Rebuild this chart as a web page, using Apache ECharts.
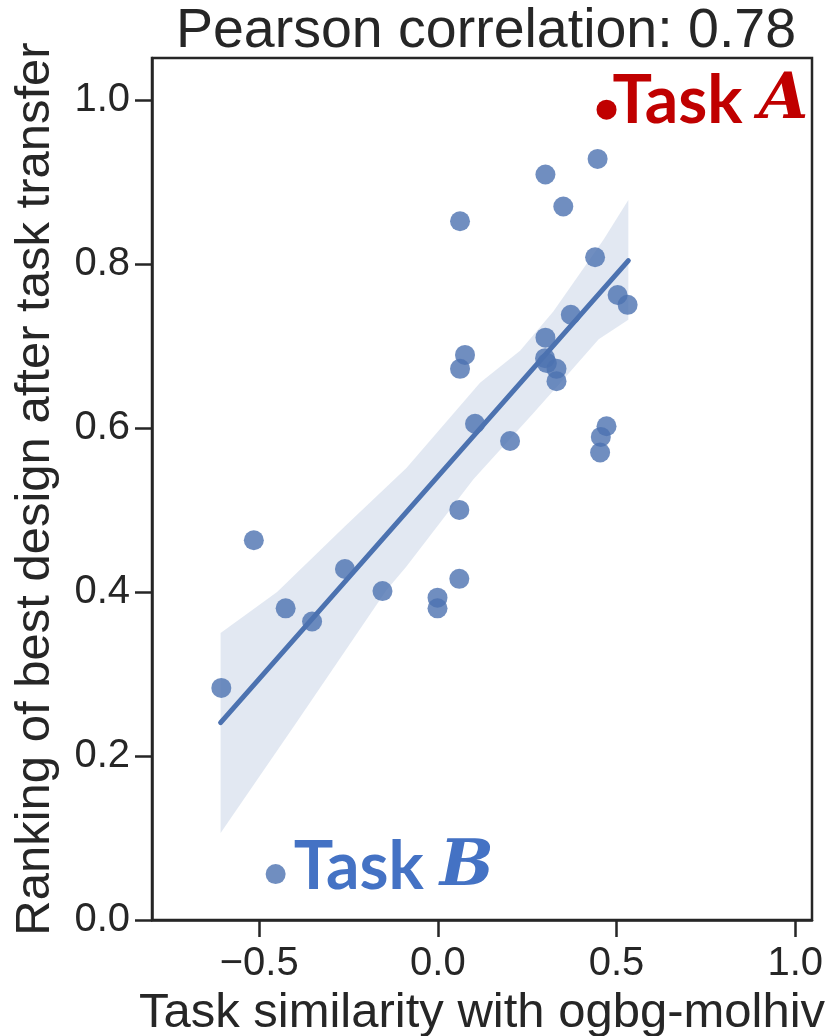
<!DOCTYPE html>
<html><head><meta charset="utf-8">
<script src="https://cdn.jsdelivr.net/npm/echarts@6/dist/echarts.min.js"></script>
<style>html,body{margin:0;padding:0;background:#fff}#c{width:835px;height:1036px}</style>
</head><body><div id="c"></div>
<script>
// Task similarity (x) and ranking of best design after transfer (y)
const similarity = [0.447, 0.301, 0.351, 0.062, 0.440, 0.503, 0.531, 0.372, 0.301, 0.076,
  0.062, 0.300, 0.305, 0.332, 0.332, 0.104, 0.202, 0.472, 0.456, 0.454,
  -0.515, 0.060, -0.260, -0.426, -0.352, -0.155, 0.060, -0.001, -0.001, -0.606];
const ranking = [0.928, 0.909, 0.870, 0.852, 0.808, 0.762, 0.750, 0.738, 0.710, 0.689,
  0.672, 0.685, 0.679, 0.672, 0.657, 0.605, 0.584, 0.602, 0.589, 0.570,
  0.463, 0.500, 0.428, 0.380, 0.364, 0.401, 0.416, 0.393, 0.380, 0.283];
const taskA = [0.472, 0.988];
const taskB = [-0.454, 0.056];
// regression line end points
const fitX = [-0.608, 0.533];
const fitY = [0.2406, 0.804];
// confidence band bounds
const upperX = [-0.608, -0.45, -0.26, -0.088, 0.118, 0.23, 0.323, 0.463, 0.533];
const upperY = [0.350, 0.400, 0.480, 0.551, 0.655, 0.694, 0.742, 0.829, 0.878];
const lowerX = [-0.608, -0.40, -0.144, -0.088, 0.099, 0.267, 0.351, 0.45, 0.533];
const lowerY = [0.106, 0.238, 0.402, 0.431, 0.537, 0.618, 0.659, 0.708, 0.732];
const xTicks = [-0.5, 0.0, 0.5, 1.0];
const yTicks = [0.0, 0.2, 0.4, 0.6, 0.8, 1.0];

const ink = '#262626';
const blue = '#4c72b0';
const dotBlue = 'rgba(76,114,176,0.8)';
const fmt = v => v.toFixed(1).replace('-', '\u2212');

const points = similarity.map((x, i) => [x, ranking[i]]);
const band = upperX.map((x, i) => [x, upperY[i]])
  .concat(lowerX.map((x, i) => [x, lowerY[i]]).reverse());

const chart = echarts.init(document.getElementById('c'), null, {renderer: 'canvas'});
chart.setOption({
  animation: false,
  backgroundColor: '#fff',
  title: {
    text: 'Pearson correlation: 0.78',
    left: 481, top: -1, textAlign: 'center',
    textStyle: {fontFamily: 'Liberation Sans', fontWeight: 'normal', fontSize: 55.5, color: ink}
  },
  grid: {left: 152, right: 23, top: 58, bottom: 116, show: true,
    outerBoundsMode: 'none', containLabel: false,
    borderColor: ink, borderWidth: 2.5, backgroundColor: 'transparent'},
  xAxis: {
    type: 'value', min: -0.8, max: 1.047,
    name: 'Task similarity with ogbg-molhiv', nameLocation: 'middle', nameGap: 55,
    nameTextStyle: {fontFamily: 'Liberation Sans', fontSize: 49, color: ink},
    splitLine: {show: false},
    axisLine: {onZero: false, lineStyle: {color: ink, width: 2.5}},
    axisTick: {customValues: xTicks, length: 17, lineStyle: {color: ink, width: 2.5}},
    axisLabel: {customValues: xTicks, formatter: fmt, margin: 24,
      fontFamily: 'Liberation Sans', fontSize: 40, color: ink}
  },
  yAxis: {
    type: 'value', min: 0, max: 1.051,
    name: 'Ranking of best design after task transfer', nameLocation: 'middle', nameGap: 92,
    nameTextStyle: {fontFamily: 'Liberation Sans', fontSize: 49, color: ink},
    splitLine: {show: false},
    axisLine: {onZero: false, lineStyle: {color: ink, width: 2.5}},
    axisTick: {customValues: yTicks, length: 17, lineStyle: {color: ink, width: 2.5}},
    axisLabel: {customValues: yTicks, formatter: v => v.toFixed(1), margin: 22,
      fontFamily: 'Liberation Sans', fontSize: 40, color: ink}
  },
  series: [
    {
      type: 'custom', silent: true, z: 1,
      data: band,
      renderItem: (params, api) => {
        if (params.dataIndex !== 0) return null;
        return {type: 'polygon', shape: {points: band.map(p => api.coord(p))},
          style: {fill: 'rgba(76,114,176,0.16)'}};
      }
    },
    {
      type: 'line', z: 2, silent: true, symbol: 'none',
      data: fitX.map((x, i) => [x, fitY[i]]),
      lineStyle: {color: blue, width: 5, cap: 'round'}
    },
    {
      type: 'scatter', z: 3, symbolSize: 20,
      data: points,
      itemStyle: {color: dotBlue, opacity: 1}
    },
    {
      type: 'scatter', z: 3, symbolSize: 20,
      data: [taskB],
      itemStyle: {color: dotBlue, opacity: 1},
      label: {show: true, position: 'right', distance: 8, offset: [0, -6],
        formatter: '{t|Task }{v|B}',
        rich: {
          t: {fontFamily: 'Lato', fontWeight: 'bold', fontSize: 66, color: '#4472c4'},
          v: {fontFamily: 'DejaVu Serif', fontWeight: 'bold', fontStyle: 'italic', fontSize: 64, color: '#4472c4'}
        }}
    },
    {
      type: 'scatter', z: 4, symbolSize: 20,
      data: [taskA],
      itemStyle: {color: '#c00000', opacity: 1},
      label: {show: true, position: 'right', distance: 0, offset: [-4, -8],
        formatter: '{t|Task }{v|A}',
        rich: {
          t: {fontFamily: 'Lato', fontWeight: 'bold', fontSize: 66, color: '#c00000'},
          v: {fontFamily: 'DejaVu Serif', fontWeight: 'bold', fontStyle: 'italic', fontSize: 64, color: '#c00000'}
        }}
    }
  ]
});
</script>
</body></html>
